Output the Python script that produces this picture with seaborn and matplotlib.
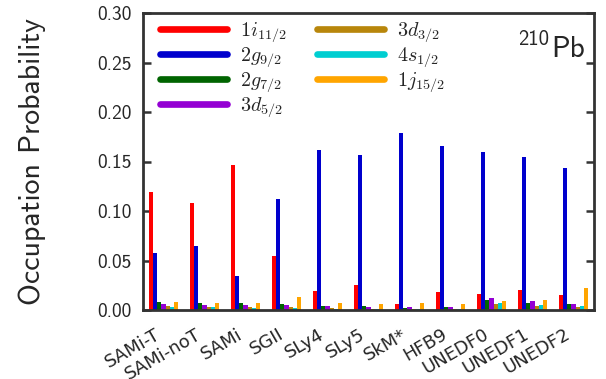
import numpy as np
import pandas as pd
import matplotlib
matplotlib.use("Agg")
import matplotlib.pyplot as plt
from matplotlib.lines import Line2D
import seaborn as sns

functionals = ["SAMi-T", "SAMi-noT", "SAMi", "SGII", "SLy4", "SLy5", "SkM*",
               "HFB9", "UNEDF0", "UNEDF1", "UNEDF2"]
orbitals = [r"$1i_{11/2}$", r"$2g_{9/2}$", r"$2g_{7/2}$", r"$3d_{5/2}$",
            r"$3d_{3/2}$", r"$4s_{1/2}$", r"$1j_{15/2}$"]
colors = ["#ff0000", "#0000cd", "#006400", "#9400d3", "#b8860b", "#00ced1", "#ffa500"]

i11_2 = [0.119, 0.108, 0.1465, 0.0545, 0.019, 0.0253, 0.0057, 0.0178, 0.0158, 0.020, 0.015]
g9_2 = [0.0576, 0.0646, 0.0343, 0.112, 0.162, 0.1566, 0.1788, 0.1655, 0.1596, 0.1545, 0.1434]
g7_2 = [0.0081, 0.007, 0.007, 0.006, 0.004, 0.0037, 0.002, 0.003, 0.0098, 0.007, 0.0057]
d5_2 = [0.006, 0.005, 0.005, 0.005, 0.004, 0.003, 0.003, 0.003, 0.012, 0.009, 0.0057]
d3_2 = [0.004, 0.003, 0.003, 0.003, 0.002, 0.0007, 0.0007, 0.0007, 0.0057, 0.004, 0.003]
s1_2 = [0.003, 0.003, 0.002, 0.002, 0.001, 0.0007, 0.0007, 0.0007, 0.007, 0.005, 0.004]
j15_2 = [0.008, 0.007, 0.007, 0.013, 0.007, 0.0057, 0.007, 0.0057, 0.009, 0.0098, 0.022]

series = [i11_2, g9_2, g7_2, d5_2, d3_2, s1_2, j15_2]
rows = []
for orb, vals in zip(orbitals, series):
    for f, v in zip(functionals, vals):
        rows.append({"functional": f, "orbital": orb, "prob": v})
df = pd.DataFrame(rows)

sns.set_style("ticks")
plt.rcParams["mathtext.fontset"] = "cm"
plt.rcParams["axes.unicode_minus"] = False
plt.rcParams["font.family"] = ["DejaVu Sans"]

fig = plt.figure(figsize=(6.06, 3.79), dpi=100)
ax = fig.add_axes([143 / 606, 1 - 310 / 379, (594 - 143) / 606, (310 - 13) / 379])

sns.barplot(data=df, x="functional", y="prob", hue="orbital", order=functionals,
            hue_order=orbitals, palette=colors, width=0.73, linewidth=0,
            saturation=1, legend=False, ax=ax)

ax.set_ylim(0, 0.30)
ax.set_xlim(-0.5, len(functionals) - 0.5)
ax.set_yticks(np.arange(0, 0.301, 0.05))
ax.set_yticklabels([f"{t:.2f}" for t in np.arange(0, 0.301, 0.05)],
                   fontfamily="cmss10", fontsize=14, color="#262626")
ax.set_xlabel("")
ax.set_ylabel("Occupation Probability", fontfamily="cmss10", fontsize=21.5,
              color="#262626", labelpad=37)
ax.tick_params(axis="y", direction="in", length=6, width=1.8, color="#333333",
               left=True, right=True, pad=8)
ax.tick_params(axis="x", length=0, pad=11)
plt.setp(ax.get_xticklabels(), rotation=30, ha="right", fontsize=13,
         color="#262626", rotation_mode="default")
for s in ax.spines.values():
    s.set_visible(True)
    s.set_linewidth(2)
    s.set_color("#333333")

handles = [Line2D([0], [0], color=c, lw=4.8) for c in colors]
ax.legend(handles, orbitals, loc="upper left", bbox_to_anchor=(0.0377, 0.975),
          ncol=2, frameon=False, fontsize=14.5, handlelength=3.33,
          handletextpad=0.65, columnspacing=1.5, labelspacing=0.05,
          borderpad=0, borderaxespad=0)

ax.text(0.980, 0.852, "Pb", transform=ax.transAxes, ha="right", va="baseline",
        fontsize=21, fontfamily="cmss10", color="#262626")
ax.text(0.900, 0.892, "210", transform=ax.transAxes, ha="right", va="baseline",
        fontsize=15, fontfamily="cmss10", color="#262626")

fig.savefig("out.png", dpi=100)
